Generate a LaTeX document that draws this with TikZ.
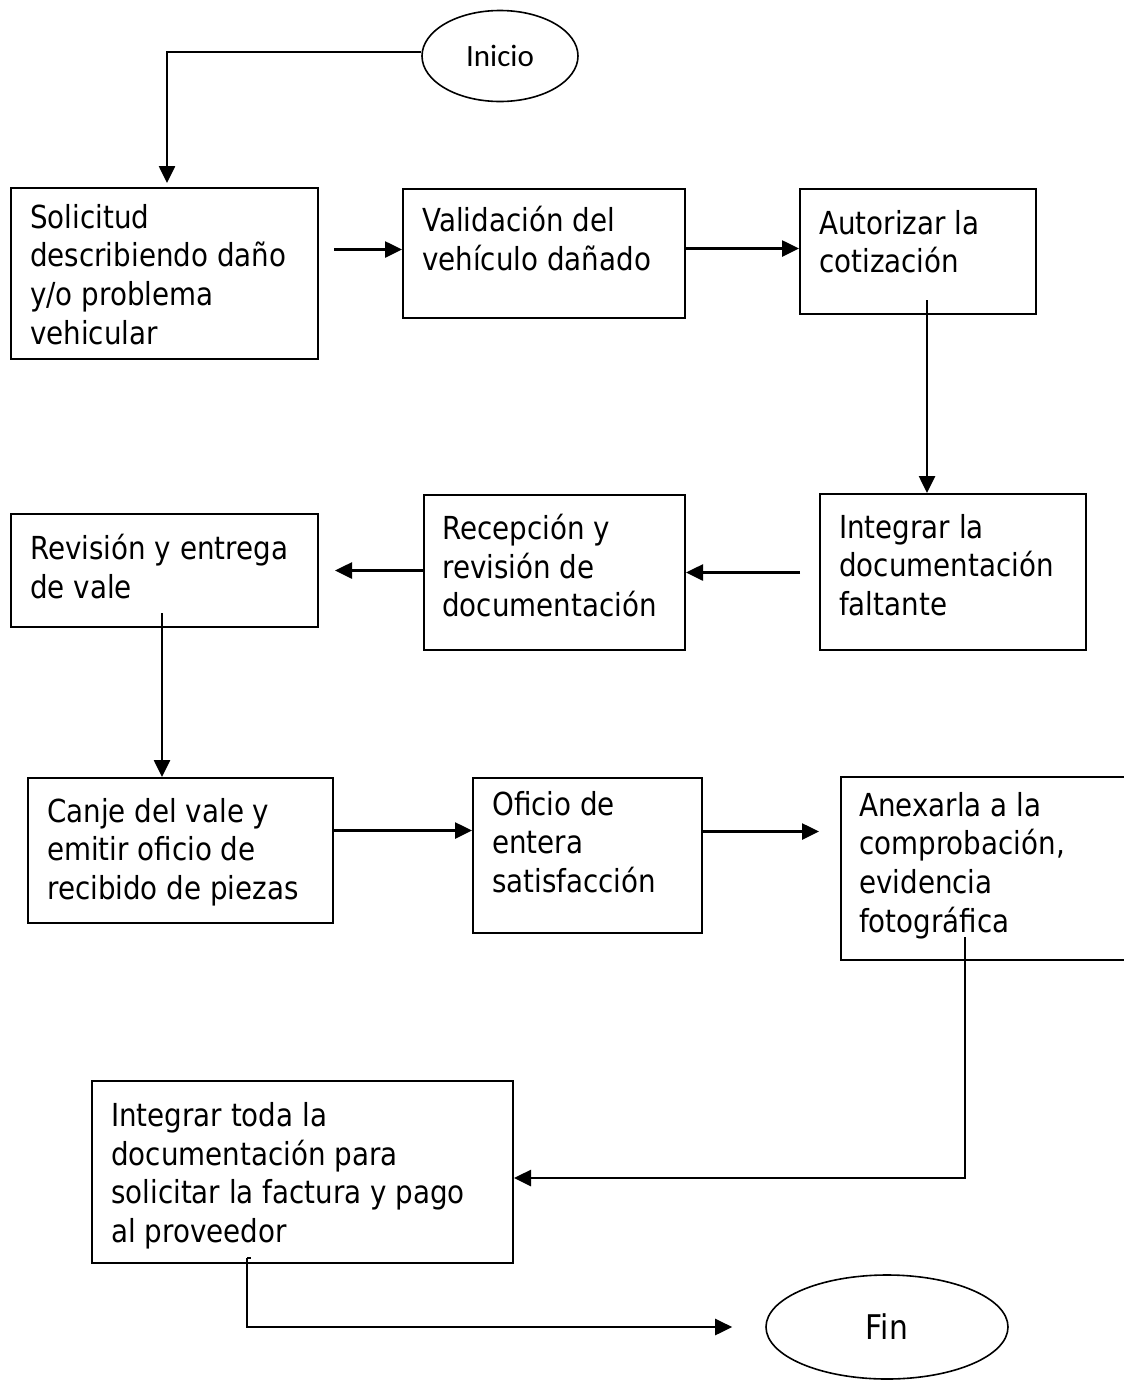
\documentclass[tikz,border=0pt]{standalone}
\usepackage{fontspec}
\setmainfont{DejaVu Sans}[FakeStretch=0.875]
\newfontfamily\carlito{Carlito}
\usepackage{tikz}
\usetikzlibrary{arrows.meta, positioning, shapes.geometric}

\tikzset{
  paso/.style={draw, rectangle, line width=2pt, anchor=north west, inner sep=0pt},
  texto/.style={anchor=north west, inner sep=0pt, align=left, font=\fontsize{31.7}{38.7}\selectfont},
  terminal/.style={draw, ellipse, line width=1.6pt, inner sep=0pt},
  flecha/.style={line width=2.6pt, -{Triangle[length=17pt, width=16pt]}}
}

\begin{document}
\begin{tikzpicture}[x=1pt, y=-1pt]
    \useasboundingbox (0,0) rectangle (1124,1382);

    % === Inicio ===
    \node[terminal, minimum width=156pt, minimum height=91pt, font=\carlito\fontsize{31}{37}\selectfont] (inicio) at (500,56) {Inicio};

    % === Row 1 ===
    \node[paso, minimum width=307pt, minimum height=171pt] (solicitud) at (10,187) {};
    \node[texto, below right=17pt and 20pt of solicitud.north west] (solicitud-t) {Solicitud\\describiendo daño\\y/o problema\\vehicular};
    \node[paso, minimum width=282pt, minimum height=129pt] (validacion) at (402,188) {};
    \node[texto, below right=18pt and 20pt of validacion.north west] (validacion-t) {Validación del\\vehículo dañado};
    \node[paso, minimum width=236pt, minimum height=125pt] (autorizar) at (799,188) {};
    \node[texto, below right=22pt and 20pt of autorizar.north west] (autorizar-t) {Autorizar la\\cotización};

    % === Row 2 ===
    \node[paso, minimum width=266pt, minimum height=156pt] (integrar) at (819,493) {};
    \node[texto, below right=21pt and 20pt of integrar.north west] (integrar-t) {Integrar la\\documentación\\faltante};
    \node[paso, minimum width=261pt, minimum height=155pt] (recepcion) at (423,494) {};
    \node[texto, below right=20pt and 19pt of recepcion.north west] (recepcion-t) {Recepción y\\revisión de\\documentación};
    \node[paso, minimum width=307pt, minimum height=113pt] (revision) at (10,513) {};
    \node[texto, below right=21pt and 20pt of revision.north west] (revision-t) {Revisión y entrega\\de vale};

    % === Row 3 ===
    \node[paso, minimum width=305pt, minimum height=145pt] (canje) at (27,777) {};
    \node[texto, below right=21pt and 20pt of canje.north west] (canje-t) {Canje del vale y\\emitir oficio de\\recibido de piezas};
    \node[paso, minimum width=229pt, minimum height=155pt] (oficio) at (472,777) {};
    \node[texto, below right=14pt and 20pt of oficio.north west] (oficio-t) {Oficio de\\entera\\satisfacción};
    % box runs off the right edge
    \node[paso, minimum width=290pt, minimum height=183pt] (anexar) at (840,776) {};
    \node[texto, below right=16pt and 19pt of anexar.north west] (anexar-t) {Anexarla a la\\comprobación,\\evidencia\\fotográfica};

    % === Row 4 ===
    \node[paso, minimum width=421pt, minimum height=182pt] (pago) at (91,1080) {};
    \node[texto, below right=22pt and 20pt of pago.north west] (pago-t) {Integrar toda la\\documentación para\\solicitar la factura y pago\\al proveedor};

    % === Fin ===
    \node[terminal, minimum width=242pt, minimum height=104pt, font=\fontsize{34}{40}\selectfont] (fin) at (887,1327) {Fin};

    % Connectors
    \draw[flecha, shorten >=4pt] ([yshift=4pt]inicio.west) -| ([xshift=2.5pt]solicitud.north);
    \draw[flecha, shorten <=15pt] ([yshift=4pt]solicitud.east |- validacion.west) -- ([yshift=4pt]validacion.west);
    \draw[flecha] ([yshift=3pt]validacion.east |- autorizar.west) -- ([yshift=3pt]autorizar.west);
    \draw[flecha] ([xshift=9pt, yshift=15pt]autorizar.south) -- ([xshift=9pt]autorizar.south |- integrar.north);
    \draw[flecha, shorten <=19pt] (integrar.west |- recepcion.east) -- (recepcion.east);
    \draw[flecha, shorten >=16pt] (recepcion.west |- revision.east) -- (revision.east);
    \draw[flecha] ([xshift=-2.5pt, yshift=15pt]revision.south) -- ([xshift=-2.5pt]revision.south |- canje.north);
    \draw[flecha] ([yshift=20pt]canje.east) -- ([yshift=20pt]canje.east -| oficio.west);
    \draw[flecha, shorten >=21pt] ([yshift=24pt]oficio.east) -- ([yshift=24pt]oficio.east -| anexar.west);
    \draw[flecha] ([xshift=-21pt, yshift=24pt]anexar.south) |- ([yshift=-6pt]pago.east);
    \draw[flecha, shorten >=33pt] ([xshift=-55.5pt, yshift=6pt]pago.south) |- (fin.west);
    % small stub on top of the last line
    \draw[line width=1.6pt] ([xshift=-55.5pt, yshift=6pt]pago.south) -- ++(4,0);
\end{tikzpicture}
\end{document}
